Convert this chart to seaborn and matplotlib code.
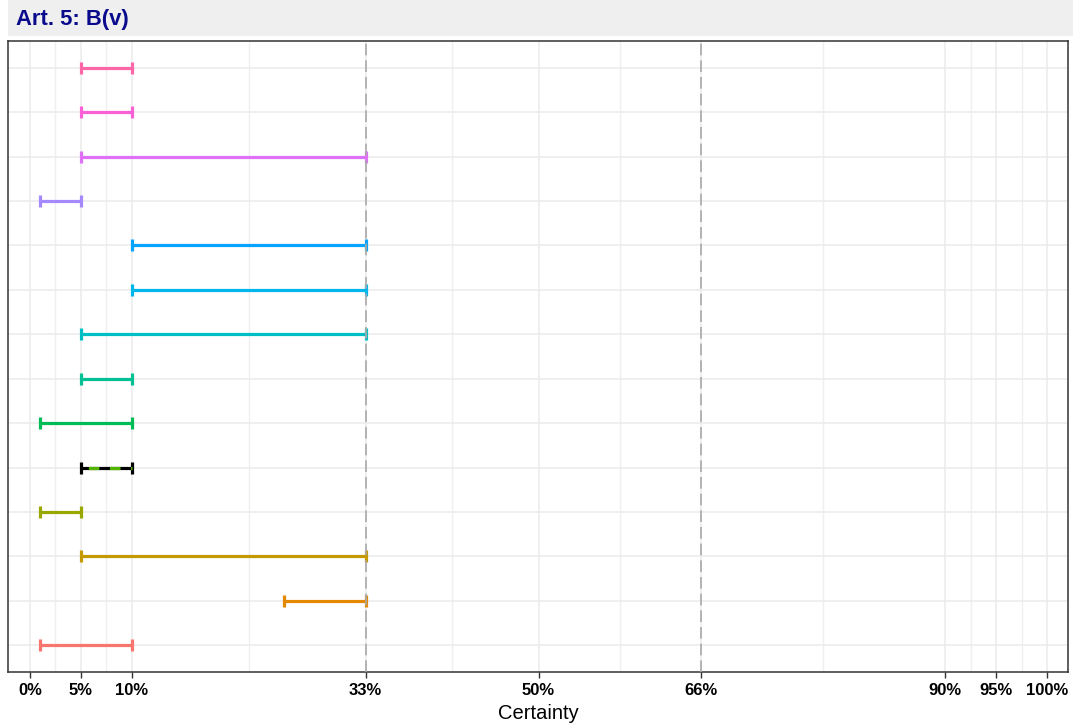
import matplotlib
matplotlib.use("Agg")
import matplotlib.pyplot as plt
from matplotlib.patches import Rectangle
import pandas as pd
import seaborn as sns

# ---------------------------------------------------------------------------
# data (rows listed bottom -> top)
# ---------------------------------------------------------------------------
ROWS = list(range(1, 15))
LOWER = [1, 25, 5, 1, 5, 1, 5, 5, 10, 10, 1, 5, 5, 5]
UPPER = [10, 33, 33, 5, 10, 10, 10, 33, 33, 33, 5, 33, 10, 10]
COLORS = ["#F8766D", "#E38900", "#C49A00", "#99A800", "#53B400", "#00BC56",
          "#00C094", "#00BFC4", "#00B6EB", "#06A4FF", "#A58AFF", "#DF70F8",
          "#FB61D7", "#FF66A8"]
# row drawn as black range with coloured dashes on top
HIGHLIGHT = [False, False, False, False, True, False, False,
             False, False, False, False, False, False, False]

X_TICKS = [0, 5, 10, 33, 50, 66, 90, 95, 100]
X_MINOR = [2.5, 7.5, 21.5, 41.5, 58, 78, 92.5, 97.5]
REF_LINES = [33, 66]
TITLE = "Art. 5: B(v)"
X_LABEL = "Certainty"

df = pd.DataFrame({"row": ROWS, "lo": LOWER, "hi": UPPER,
                   "color": COLORS, "hl": HIGHLIGHT})

sns.set_theme(style="white")
plt.rcParams["font.family"] = ["Liberation Sans", "DejaVu Sans"]

fig = plt.figure(figsize=(10.73, 7.25), dpi=100)
ax = fig.add_axes([8 / 1073, 53 / 725, 1060 / 1073, 631 / 725])

# strip with title
fig.patches.append(Rectangle((8 / 1073, 689 / 725), 1 - 8 / 1073, 36 / 725,
                             transform=fig.transFigure, facecolor="#EFEFEF",
                             edgecolor="none", zorder=0))
fig.text(16 / 1073, 705 / 725, TITLE, color="#0A0A8C", fontsize=15.8,
         fontweight="bold", va="center", ha="left")

# grid
ax.set_xticks(X_TICKS)
ax.set_xticks(X_MINOR, minor=True)
ax.set_yticks(ROWS)
ax.grid(True, which="major", color="#EBEBEB", lw=1.1, zorder=0)
ax.grid(True, which="minor", axis="x", color="#EFEFEF", lw=1.0, zorder=0)
ax.set_axisbelow(True)

# ranges
for _, r in df.iterrows():
    c = "black" if r["hl"] else r["color"]
    mid = (r["lo"] + r["hi"]) / 2
    half = (r["hi"] - r["lo"]) / 2
    ax.errorbar(mid, r["row"], xerr=half, fmt="none", ecolor=c,
                elinewidth=2.3, capsize=4.5, capthick=2.3, zorder=3)
    if r["hl"]:
        ax.plot([r["lo"], r["hi"]], [r["row"], r["row"]], color=r["color"],
                lw=2.3, linestyle=(4.3, (3.3, 3.3)), zorder=4,
                solid_capstyle="butt", dash_capstyle="butt")

for xv in REF_LINES:
    ax.axvline(xv, color="#A9A9A9", lw=1.2, linestyle=(0, (7, 3)), zorder=5)

ax.set_xlim(-2.16, 102.06)
ax.set_ylim(0.4, 14.6)
ax.set_xticklabels([f"{t}%" for t in X_TICKS], fontsize=12,
                   fontweight="bold", color="black")
ax.set_yticklabels([])
ax.tick_params(axis="x", which="major", length=4, width=1, color="#333333",
               direction="out", pad=4, bottom=True)
ax.tick_params(axis="x", which="minor", length=0)
ax.tick_params(axis="y", length=0)
ax.set_xlabel(X_LABEL, fontsize=14.5, labelpad=4, color="black")
ax.set_ylabel("")

for s in ax.spines.values():
    s.set_color("#333333")
    s.set_linewidth(1.1)

fig.savefig("out.png", dpi=100)
plt.close(fig)
